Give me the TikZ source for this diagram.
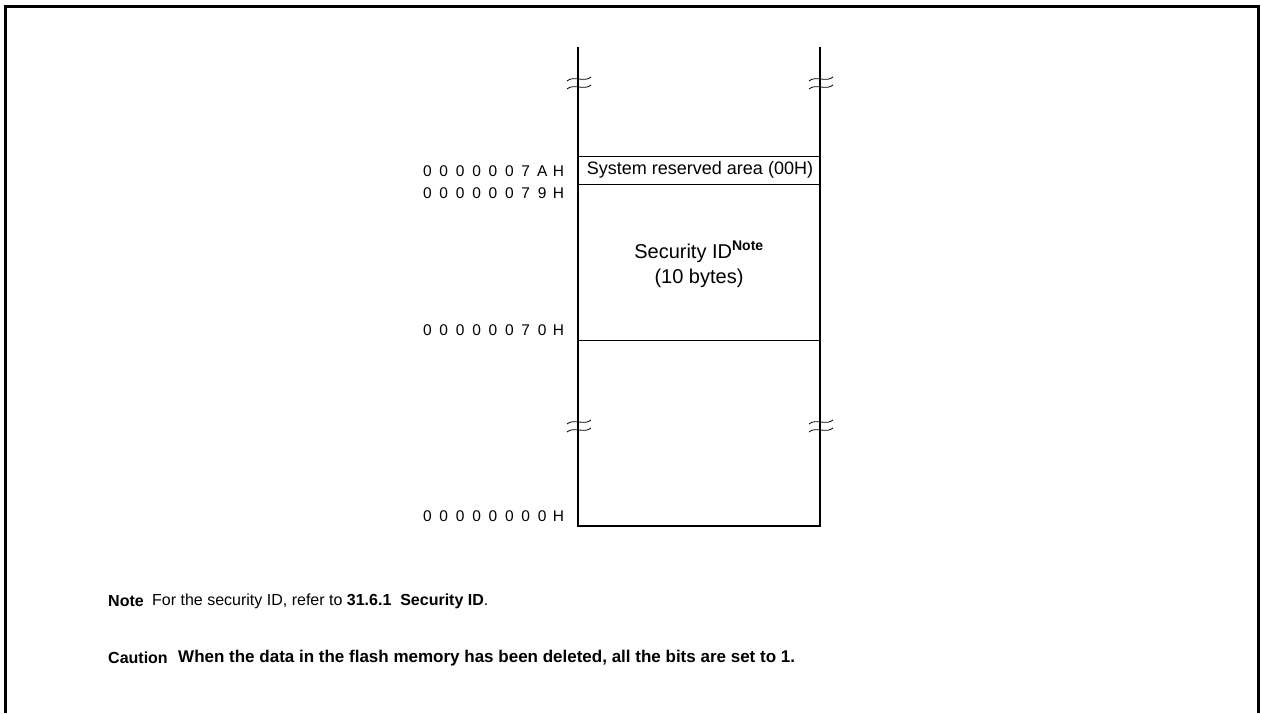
\documentclass[tikz,border=0pt]{standalone}
\usepackage{fontspec}
\setmainfont{Liberation Sans}
\makeatletter
\newcommand\spacedaddr[1]{\@tfor\addrch:=#1\do{\makebox[16.4pt]{\addrch}}}
\makeatother
\tikzset{
  frameline/.style={line width=3pt},
  mapline/.style={line width=2.2pt},
  divline/.style={line width=1pt},
  breakmark/.style={line width=0.8pt},
  addr/.style={anchor=east, inner sep=0pt, font=\fontsize{15.5}{15.5}\selectfont},
  areatext/.style={inner sep=0pt, align=center},
  notetext/.style={anchor=west, inner sep=0pt, font=\fontsize{17}{17}\selectfont},
  notelabel/.style={anchor=west, inner sep=0pt, font=\fontsize{16}{16}\selectfont\bfseries}
}
\newcommand\brk[2]{%
  \draw[breakmark] (#1-12,#2+2) .. controls (#1-5,#2-4) and (#1+5,#2+4) .. (#1+12,#2-2);%
}
\begin{document}
\begin{tikzpicture}[x=1pt,y=-1pt]
\useasboundingbox (0,0) rectangle (1261,713);
% outer frame
\draw[frameline] (5.5,713) -- (5.5,6.5) -- (1258.5,6.5) -- (1258.5,713);
% memory map
\coordinate (LT) at (578,47);
\coordinate (RT) at (820,47);
\coordinate (LB) at (578,526);
\coordinate (RB) at (820,526);
\draw[mapline] (LT) -- (LB) -- (RB) -- (RT);
\coordinate (A7A) at (578,156);
\coordinate (B7A) at (820,156);
\coordinate (A79) at (578,184);
\coordinate (B79) at (820,184);
\coordinate (A70) at (578,340);
\coordinate (B70) at (820,340);
\draw[divline] (A7A) -- (B7A);
\draw[divline] (A79) -- (B79);
\draw[divline] (A70) -- (B70);
% break marks
\brk{579}{79}
\brk{579}{87}
\brk{821}{79}
\brk{821}{87}
\brk{579}{422}
\brk{579}{430}
\brk{821}{422}
\brk{821}{430}
% area labels
\node[areatext, font=\fontsize{18}{18}\selectfont] (res) at (700,170) {System reserved area (00H)};
\node[areatext, font=\fontsize{20}{25}\selectfont] (sid) at (699,264) {Security ID\textsuperscript{\bfseries Note}\\(10 bytes)};
% addresses
\node[addr] (a1) at (567,171) {\spacedaddr{0000007AH}};
\node[addr] (a2) at (567,193) {\spacedaddr{00000079H}};
\node[addr] (a3) at (567,330) {\spacedaddr{00000070H}};
\node[addr] (a4) at (567,516) {\spacedaddr{00000000H}};
% notes
\node[notelabel] (nt) at (108,601) {Note};
\node[notetext, font=\fontsize{16}{16}\selectfont] (ntx) at (152,601) {For the security ID, refer to \textbf{31.6.1\ \ Security ID}.};
\node[notelabel] (ca) at (108,658) {Caution};
\node[notetext] (catx) at (178,658) {\bfseries When the data in the flash memory has been deleted, all the bits are set to 1.};
\end{tikzpicture}
\end{document}
